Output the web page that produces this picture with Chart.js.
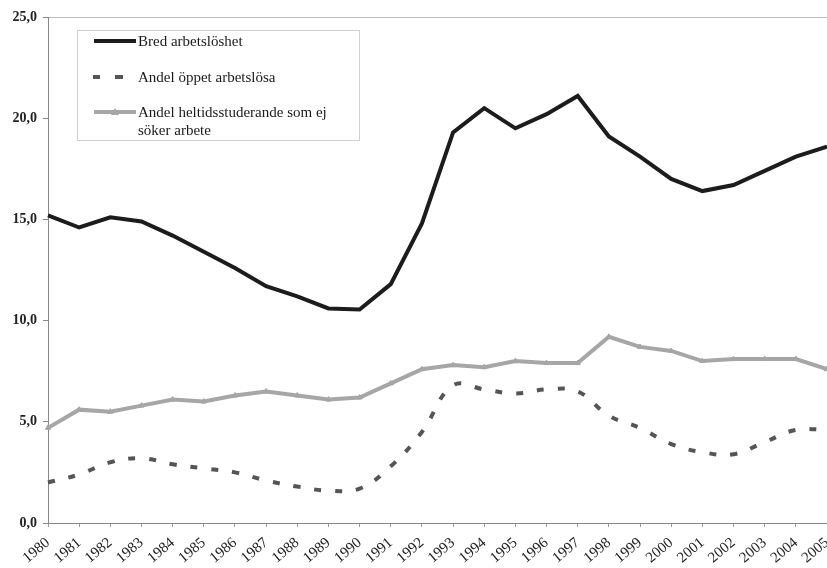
<!DOCTYPE html>
<html>
<head>
<meta charset="utf-8">
<script src="https://cdn.jsdelivr.net/npm/chart.js@4"></script>
<style>
  html, body { margin: 0; padding: 0; background: #fff; }
  #wrap { width: 827px; height: 568px; }
</style>
</head>
<body>
<div id="wrap"><canvas id="chart" width="827" height="568"></canvas></div>
<script>
const years = ['1980','1981','1982','1983','1984','1985','1986','1987','1988','1989','1990','1991','1992',
  '1993','1994','1995','1996','1997','1998','1999','2000','2001','2002','2003','2004','2005'];

const bredArbetsloshet = [15.2, 14.6, 15.1, 14.9, 14.2, 13.4, 12.6, 11.7, 11.2, 10.6, 10.55, 11.8, 14.8,
  19.3, 20.5, 19.5, 20.2, 21.1, 19.1, 18.1, 17.0, 16.4, 16.7, 17.4, 18.1, 18.6];

const oppetArbetslosa = [2.0, 2.4, 3.0, 3.2, 2.9, 2.7, 2.5, 2.1, 1.8, 1.6, 1.7, 2.8, 4.5,
  6.8, 6.6, 6.4, 6.6, 6.5, 5.3, 4.7, 3.9, 3.5, 3.4, 4.0, 4.6, 4.6];

const heltidsstuderande = [4.7, 5.6, 5.5, 5.8, 6.1, 6.0, 6.3, 6.5, 6.3, 6.1, 6.2, 6.9, 7.6,
  7.8, 7.7, 8.0, 7.9, 7.9, 9.2, 8.7, 8.5, 8.0, 8.1, 8.1, 8.1, 7.6];

const yTicks = [0, 5, 10, 15, 20, 25];

const FONT = '"Liberation Serif", "Times New Roman", serif';

// legend drawn by hand so the last label can wrap onto two lines
const legendBox = {
  id: 'legendBox',
  afterDraw(chart) {
    const ctx = chart.ctx;
    const ds = chart.data.datasets;
    ctx.save();
    ctx.fillStyle = '#fff';
    ctx.fillRect(77.5, 30.5, 282, 110);
    ctx.strokeStyle = '#d0d0d0';
    ctx.lineWidth = 1;
    ctx.strokeRect(77.5, 30.5, 282, 110);

    ctx.font = '15px ' + FONT;
    ctx.textBaseline = 'middle';
    ctx.textAlign = 'left';

    const rows = [
      { y: 41, lines: [ds[0].label] },
      { y: 77, lines: [ds[1].label] },
      { y: 112, lines: ['Andel heltidsstuderande som ej', 'söker arbete'] }
    ];
    rows.forEach((r, i) => {
      const d = ds[i];
      if (i === 1) {
        // two short dashes like the reference key
        ctx.fillStyle = d.borderColor;
        ctx.fillRect(93, r.y - 2, 7, 4);
        ctx.fillRect(115, r.y - 2, 8, 4);
      } else {
        ctx.beginPath();
        ctx.strokeStyle = d.borderColor;
        ctx.lineWidth = d.borderWidth;
        ctx.moveTo(94, r.y);
        ctx.lineTo(136, r.y);
        ctx.stroke();
      }
      if (i === 2) {
        ctx.beginPath();
        ctx.fillStyle = d.pointBackgroundColor;
        ctx.moveTo(115, r.y - 4);
        ctx.lineTo(119, r.y + 3);
        ctx.lineTo(111, r.y + 3);
        ctx.closePath();
        ctx.fill();
      }
      ctx.fillStyle = '#1a1a1a';
      r.lines.forEach((t, k) => ctx.fillText(t, 138, r.y + 1 + k * 18));
    });
    ctx.restore();
  }
};

new Chart(document.getElementById('chart'), {
  type: 'line',
  data: {
    labels: years,
    datasets: [
      {
        label: 'Bred arbetslöshet',
        data: bredArbetsloshet,
        borderColor: '#1c1c1c',
        borderWidth: 4,
        pointRadius: 0,
        tension: 0,
        clip: false
      },
      {
        label: 'Andel öppet arbetslösa',
        data: oppetArbetslosa,
        borderColor: '#555555',
        borderWidth: 4,
        borderDash: [7, 14],
        pointRadius: 0,
        tension: 0.4,
        clip: false
      },
      {
        label: 'Andel heltidsstuderande som ej söker arbete',
        data: heltidsstuderande,
        borderColor: '#a6a6a6',
        borderWidth: 4,
        pointStyle: 'triangle',
        pointRadius: 3,
        pointBackgroundColor: '#a6a6a6',
        pointBorderColor: '#a6a6a6',
        pointBorderWidth: 1,
        tension: 0,
        clip: false
      }
    ]
  },
  options: {
    responsive: false,
    animation: false,
    layout: { autoPadding: false, padding: { top: 17, right: 0, left: 0, bottom: 0 } },
    plugins: {
      legend: { display: false },
      tooltip: { enabled: false }
    },
    scales: {
      x: {
        offset: false,
        grid: {
          drawOnChartArea: false,
          drawTicks: true,
          tickLength: 4,
          tickColor: '#999',
          color: '#999'
        },
        border: { color: '#888', width: 1 },
        ticks: {
          autoSkip: false,
          minRotation: 40,
          maxRotation: 40,
          padding: 7,
          color: '#222',
          font: { family: FONT, size: 15 }
        },
        afterFit(axis) {
          axis.height = 45;
          axis.paddingLeft = 0;
          axis.paddingRight = 0;
        }
      },
      y: {
        min: 0,
        max: 25,
        afterBuildTicks(axis) { axis.ticks = yTicks.map(v => ({ value: v })); },
        grid: {
          drawOnChartArea: true,
          drawTicks: true,
          tickLength: 5,
          color: ctx => (ctx.tick && ctx.tick.value === 25 ? '#bfbfbf' : 'rgba(0,0,0,0)'),
          tickColor: '#888',
          lineWidth: 1
        },
        border: { color: '#888', width: 1 },
        ticks: {
          padding: 6,
          color: '#222',
          font: { family: FONT, size: 14, weight: 'bold' },
          callback: v => v.toFixed(1).replace('.', ',')
        },
        afterFit(axis) {
          axis.width = 48;
          axis.paddingTop = 0;
          axis.paddingBottom = 0;
        }
      }
    }
  },
  plugins: [legendBox]
});
</script>
</body>
</html>
